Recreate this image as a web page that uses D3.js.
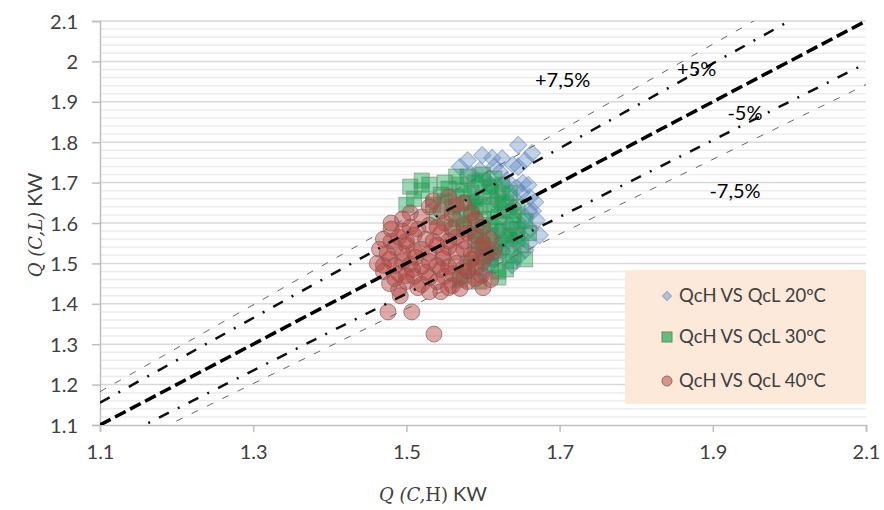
<!DOCTYPE html>
<html>
<head>
<meta charset="utf-8">
<script src="https://cdn.jsdelivr.net/npm/d3@7"></script>
<style>
  body { margin: 0; background: #fff; }
  svg { display: block; font-family: Lato, "Open Sans", sans-serif; }
</style>
</head>
<body>
<div id="chart"></div>
<script>
// QcH vs QcL points, [QcH, QcL] in KW
const s20 = [
  [1.646, 1.793], [1.664, 1.773], [1.599, 1.768], [1.612, 1.761], [1.639, 1.744],
  [1.646, 1.739], [1.570, 1.739], [1.596, 1.731], [1.622, 1.726], [1.631, 1.706],
  [1.652, 1.699], [1.659, 1.694], [1.609, 1.694], [1.644, 1.687], [1.639, 1.664],
  [1.661, 1.664], [1.590, 1.657], [1.616, 1.657], [1.668, 1.652], [1.629, 1.632],
  [1.655, 1.615], [1.670, 1.607], [1.635, 1.595], [1.622, 1.583], [1.648, 1.570],
  [1.674, 1.570], [1.626, 1.558], [1.638, 1.546], [1.655, 1.533], [1.616, 1.521],
  [1.638, 1.496], [1.600, 1.476], [1.605, 1.705], [1.585, 1.720], [1.660, 1.630],
  [1.625, 1.760], [1.655, 1.755], [1.630, 1.690], [1.650, 1.675], [1.665, 1.630],
  [1.640, 1.640], [1.650, 1.595], [1.662, 1.585], [1.640, 1.560], [1.660, 1.550],
  [1.625, 1.530], [1.645, 1.515], [1.610, 1.500], [1.580, 1.755], [1.615, 1.740]
];
const s30 = [
  [1.580, 1.715], [1.600, 1.720], [1.615, 1.710], [1.590, 1.700],
  [1.505, 1.690], [1.530, 1.695], [1.555, 1.685], [1.570, 1.695], [1.610, 1.690], [1.625, 1.695],
  [1.510, 1.660], [1.545, 1.670], [1.565, 1.665], [1.585, 1.675], [1.600, 1.665], [1.620, 1.670], [1.635, 1.675],
  [1.500, 1.645], [1.535, 1.645], [1.560, 1.640], [1.580, 1.650], [1.595, 1.640], [1.610, 1.645], [1.630, 1.650], [1.645, 1.640],
  [1.540, 1.615], [1.565, 1.610], [1.585, 1.620], [1.600, 1.610], [1.620, 1.615], [1.640, 1.620], [1.655, 1.605],
  [1.575, 1.585], [1.590, 1.580], [1.610, 1.590], [1.625, 1.580], [1.645, 1.585], [1.660, 1.575],
  [1.595, 1.555], [1.615, 1.550], [1.630, 1.560], [1.650, 1.545], [1.605, 1.535],
  [1.600, 1.515], [1.620, 1.525], [1.640, 1.520], [1.655, 1.510],
  [1.590, 1.490], [1.610, 1.495], [1.630, 1.485], [1.575, 1.470],
  [1.570, 1.460], [1.595, 1.455], [1.620, 1.465],
  [1.520, 1.680], [1.550, 1.700], [1.565, 1.715], [1.595, 1.705], [1.575, 1.680],
  [1.610, 1.680], [1.590, 1.660], [1.625, 1.655], [1.550, 1.655], [1.570, 1.625],
  [1.590, 1.635], [1.615, 1.630], [1.635, 1.630], [1.580, 1.600], [1.600, 1.595],
  [1.620, 1.600], [1.640, 1.600], [1.590, 1.565], [1.610, 1.570], [1.635, 1.570],
  [1.600, 1.545], [1.625, 1.540], [1.590, 1.525], [1.610, 1.510], [1.635, 1.505],
  [1.580, 1.500], [1.620, 1.480], [1.645, 1.560], [1.560, 1.590], [1.520, 1.705]
];
const s40 = [
  [1.555, 1.665], [1.535, 1.655], [1.575, 1.650],
  [1.495, 1.610], [1.520, 1.615], [1.545, 1.630], [1.560, 1.622], [1.585, 1.625],
  [1.480, 1.585], [1.505, 1.590], [1.530, 1.595], [1.550, 1.600], [1.575, 1.595], [1.600, 1.590],
  [1.470, 1.560], [1.490, 1.565], [1.510, 1.570], [1.525, 1.560], [1.545, 1.575], [1.565, 1.565], [1.590, 1.570], [1.610, 1.560],
  [1.465, 1.535], [1.485, 1.540], [1.500, 1.545], [1.520, 1.535], [1.540, 1.545], [1.555, 1.540], [1.575, 1.535], [1.595, 1.540], [1.615, 1.530],
  [1.462, 1.500], [1.478, 1.510], [1.495, 1.505], [1.512, 1.515], [1.530, 1.505], [1.548, 1.512], [1.565, 1.500], [1.585, 1.510], [1.600, 1.505],
  [1.470, 1.480], [1.490, 1.475], [1.508, 1.485], [1.525, 1.478], [1.545, 1.485], [1.560, 1.475], [1.580, 1.482], [1.598, 1.470],
  [1.478, 1.450], [1.500, 1.455], [1.520, 1.448], [1.540, 1.455], [1.560, 1.445], [1.580, 1.455], [1.610, 1.460],
  [1.490, 1.435], [1.530, 1.430], [1.555, 1.440], [1.600, 1.440],
  [1.476, 1.380], [1.507, 1.380], [1.536, 1.325], [1.492, 1.420],
  [1.480, 1.600], [1.505, 1.625], [1.530, 1.640], [1.565, 1.645], [1.590, 1.610],
  [1.495, 1.580], [1.515, 1.585], [1.540, 1.590], [1.560, 1.585], [1.580, 1.575],
  [1.480, 1.555], [1.500, 1.555], [1.535, 1.555], [1.555, 1.555], [1.575, 1.555],
  [1.600, 1.550], [1.475, 1.525], [1.495, 1.525], [1.510, 1.530], [1.530, 1.525],
  [1.548, 1.525], [1.565, 1.528], [1.585, 1.522], [1.605, 1.520], [1.470, 1.495],
  [1.485, 1.495], [1.505, 1.498], [1.520, 1.492], [1.540, 1.495], [1.555, 1.492],
  [1.575, 1.490], [1.590, 1.492], [1.485, 1.462], [1.510, 1.468], [1.530, 1.465],
  [1.550, 1.468], [1.570, 1.465], [1.590, 1.462], [1.515, 1.440], [1.545, 1.430],
  [1.570, 1.438], [1.500, 1.470]
];
const seriesNames = ["QcH VS QcL 20ºC", "QcH VS QcL 30ºC", "QcH VS QcL 40ºC"];

// error band lines y = k * x
const bandFactors = [1.075, 1.05, 1, 0.95, 0.925];
const bandLabels = ["+7,5%", "+5%", null, "-5%", "-7,5%"];
const bandLabelPos = [[1.704, 1.955], [1.879, 1.980], null, [1.942, 1.872], [1.929, 1.680]];

const xTicks = [1.1, 1.3, 1.5, 1.7, 1.9, 2.1];
const yTicks = [1.1, 1.2, 1.3, 1.4, 1.5, 1.6, 1.7, 1.8, 1.9, 2, 2.1];
const yMinor = d3.range(1.12, 2.1, 0.02).filter(v => Math.abs(Math.round(v * 10) - v * 10) > 0.05);

const W = 884, H = 510;
const margin = { top: 21, right: 18, bottom: 85, left: 100 };
const w = W - margin.left - margin.right;
const h = H - margin.top - margin.bottom;

const svg = d3.select("#chart").append("svg")
  .attr("width", W)
  .attr("height", H);

const x = d3.scaleLinear().domain([1.1, 2.1]).range([margin.left, margin.left + w]);
const y = d3.scaleLinear().domain([1.1, 2.1]).range([margin.top + h, margin.top]);

svg.append("defs").append("clipPath").attr("id", "plot")
  .append("rect")
  .attr("x", margin.left).attr("y", margin.top)
  .attr("width", w).attr("height", h);

// gridlines
svg.append("g").selectAll("line").data(yMinor).join("line")
  .attr("x1", margin.left).attr("x2", margin.left + w)
  .attr("y1", d => y(d)).attr("y2", d => y(d))
  .attr("stroke", "#ececec").attr("stroke-width", 1.5);
svg.append("g").selectAll("line").data(yTicks.slice(1)).join("line")
  .attr("x1", margin.left).attr("x2", margin.left + w)
  .attr("y1", d => y(d)).attr("y2", d => y(d))
  .attr("stroke", "#d9d9d9").attr("stroke-width", 1.5);

// axes
const fmt = d => String(+d.toFixed(1));
const yAxis = svg.append("g")
  .attr("transform", `translate(${margin.left},0)`)
  .call(d3.axisLeft(y).tickValues(yTicks).tickFormat(fmt).tickSize(8).tickPadding(14));
const xAxis = svg.append("g")
  .attr("transform", `translate(0,${margin.top + h})`)
  .call(d3.axisBottom(x).tickValues(xTicks).tickFormat(fmt).tickSize(7).tickPadding(13));
[xAxis, yAxis].forEach(a => {
  a.select(".domain").attr("stroke", "#bfbfbf").attr("stroke-width", 1.5);
  a.selectAll(".tick line").attr("stroke", "#bfbfbf").attr("stroke-width", 1.5);
  a.selectAll("text").attr("font-size", 20).attr("fill", "#404040")
    .attr("font-family", "Lato, sans-serif");
});
yAxis.selectAll("text").attr("dy", "0.35em");

// points
const pts = svg.append("g").attr("clip-path", "url(#plot)");
pts.append("g").selectAll("path").data(s20).join("path")
  .attr("d", d3.symbol(d3.symbolSquare, 150))
  .attr("transform", d => `translate(${x(d[0])},${y(d[1])}) rotate(45)`)
  .attr("fill", "#4f81bd").attr("fill-opacity", 0.35)
  .attr("stroke", "#6f8fbf").attr("stroke-opacity", 0.6);
pts.append("g").selectAll("rect").data(s30).join("rect")
  .attr("x", d => x(d[0]) - 7.5).attr("y", d => y(d[1]) - 7.5)
  .attr("width", 15).attr("height", 15)
  .attr("fill", "#00a040").attr("fill-opacity", 0.4)
  .attr("stroke", "#6f8575").attr("stroke-opacity", 0.6);
pts.append("g").selectAll("circle").data(s40).join("circle")
  .attr("cx", d => x(d[0])).attr("cy", d => y(d[1])).attr("r", 8)
  .attr("fill", "#b8403c").attr("fill-opacity", 0.45)
  .attr("stroke", "#7f6060").attr("stroke-opacity", 0.7);

// band lines
const bandStyle = {
  1.075: { dash: "7,10", w: 1, c: "#666" },
  1.05: { dash: "11,10,2,10", w: 2.5, c: "#111" },
  1: { dash: "12,5", w: 3.5, c: "#000" },
  0.95: { dash: "11,10,2,10", w: 2.5, c: "#111" },
  0.925: { dash: "7,10", w: 1, c: "#666" }
};
const lines = svg.append("g").attr("clip-path", "url(#plot)");
bandFactors.forEach(k => {
  const st = bandStyle[k];
  lines.append("line")
    .attr("x1", x(1.1)).attr("y1", y(1.1 * k))
    .attr("x2", x(2.1)).attr("y2", y(2.1 * k))
    .attr("stroke", st.c).attr("stroke-width", st.w)
    .attr("stroke-dasharray", st.dash);
});
bandLabels.forEach((t, i) => {
  if (!t) return;
  svg.append("text")
    .attr("x", x(bandLabelPos[i][0])).attr("y", y(bandLabelPos[i][1]))
    .attr("text-anchor", "middle").attr("dy", "0.35em")
    .attr("font-size", 20).attr("fill", "#000")
    .text(t);
});

// legend
const lg = svg.append("g");
lg.append("rect").attr("x", 625).attr("y", 270).attr("width", 241).attr("height", 134)
  .attr("fill", "#fde9d9");
const ly = [296, 337, 381];
seriesNames.forEach((n, i) => {
  lg.append("text").attr("x", 679).attr("y", ly[i]).attr("dy", "0.35em")
    .attr("font-size", 18.5).attr("fill", "#404040").text(n);
});
lg.append("path").attr("d", d3.symbol(d3.symbolSquare, 40))
  .attr("transform", `translate(667,${ly[0]}) rotate(45)`)
  .attr("fill", "#4f81bd").attr("fill-opacity", 0.4).attr("stroke", "#8fa8cc");
lg.append("rect").attr("x", 662).attr("y", ly[1] - 5).attr("width", 10).attr("height", 10)
  .attr("fill", "#00a040").attr("fill-opacity", 0.6).attr("stroke", "#5f8a6a");
lg.append("circle").attr("cx", 667).attr("cy", ly[2]).attr("r", 5)
  .attr("fill", "#b8403c").attr("fill-opacity", 0.5).attr("stroke", "#8a6a6a");

// axis titles
const xt = svg.append("text").attr("x", 433).attr("y", 494).attr("dy", "0.35em")
  .attr("text-anchor", "middle").attr("font-size", 20).attr("fill", "#404040");
xt.append("tspan").attr("font-family", "DejaVu Serif, serif").attr("font-style", "italic")
  .attr("font-size", 18).text("Q (C,");
xt.append("tspan").attr("font-family", "DejaVu Serif, serif").attr("font-size", 18).text("H)");
xt.append("tspan").text(" KW");

const yt = svg.append("text")
  .attr("transform", "translate(35,225) rotate(-90)")
  .attr("dy", "0.35em").attr("text-anchor", "middle").attr("font-size", 20).attr("fill", "#404040");
yt.append("tspan").attr("font-family", "DejaVu Serif, serif").attr("font-style", "italic")
  .attr("font-size", 18).text("Q (C,L)");
yt.append("tspan").text(" KW");
</script>
</body>
</html>
